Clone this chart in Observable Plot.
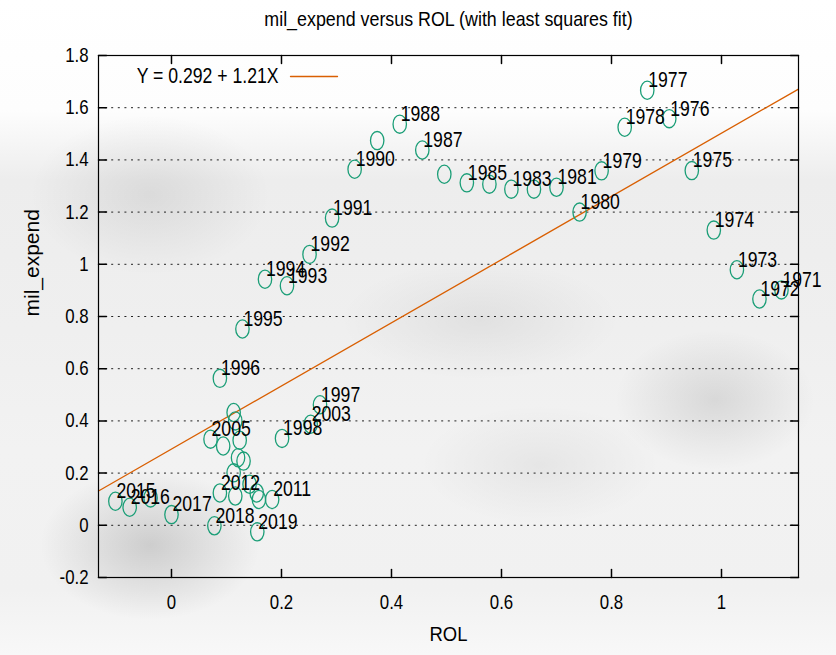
<!DOCTYPE html>
<html><head><meta charset="utf-8">
<script src="https://cdn.jsdelivr.net/npm/d3@7"></script>
<script src="https://cdn.jsdelivr.net/npm/@observablehq/plot@0.6"></script>
<style>
html,body{margin:0;padding:0;background:#fff;}
#chart{width:836px;height:655px;overflow:hidden;
background:
 radial-gradient(ellipse 110px 75px at 150px 545px, rgba(0,0,0,0.15), rgba(0,0,0,0)),
 radial-gradient(ellipse 120px 80px at 150px 195px, rgba(0,0,0,0.08), rgba(0,0,0,0)),
 radial-gradient(ellipse 100px 70px at 715px 400px, rgba(0,0,0,0.10), rgba(0,0,0,0)),
 radial-gradient(ellipse 140px 60px at 480px 320px, rgba(0,0,0,0.06), rgba(0,0,0,0)),
 radial-gradient(ellipse 120px 60px at 540px 465px, rgba(0,0,0,0.05), rgba(0,0,0,0)),
 linear-gradient(to bottom, #ffffff 0px, #fdfdfd 110px, #ededed 180px, #efefef 330px, #f2f2f2 450px, #f1f1f1 590px, #f8f8f8 655px);}
</style></head><body><div id="chart"></div><script>
const years = [1971,1972,1973,1974,1975,1976,1977,1978,1979,1980,1981,1982,1983,1984,1985,1986,1987,1988,1989,1990,
  1991,1992,1993,1994,1995,1996,1997,1998,1999,2000,2001,2002,2003,2004,2005,2006,2007,2008,2009,2010,
  2011,2012,2013,2014,2015,2016,2017,2018,2019];
const rol = [1.109,1.069,1.028,0.986,0.946,0.905,0.865,0.824,0.782,0.742,0.700,0.659,0.618,0.578,0.537,0.496,0.456,0.415,0.374,0.333,
  0.292,0.251,0.210,0.170,0.129,0.088,0.270,0.201,0.113,0.116,0.124,0.094,0.253,0.121,0.071,0.131,0.113,0.142,0.155,0.159,
  0.183,0.088,0.116,-0.038,-0.102,-0.076,0.000,0.078,0.156];
const milExpend = [0.902,0.867,0.979,1.131,1.359,1.558,1.667,1.525,1.358,1.200,1.295,1.288,1.288,1.307,1.312,1.345,1.438,1.537,1.474,1.364,
  1.177,1.038,0.918,0.943,0.752,0.563,0.462,0.333,0.432,0.400,0.326,0.304,0.387,0.259,0.330,0.246,0.201,0.157,0.124,0.099,
  0.099,0.124,0.112,0.105,0.092,0.069,0.041,-0.002,-0.025];
const labeledYears = [1971,1972,1973,1974,1975,1976,1977,1978,1979,1980,1981,1983,1985,1987,1988,1990,
  1991,1992,1993,1994,1995,1996,1997,1998,2003,2005,2011,2012,2015,2016,2017,2018,2019];
const xTicks = [0,0.2,0.4,0.6,0.8,1];
const yTicks = [-0.2,0,0.2,0.4,0.6,0.8,1,1.2,1.4,1.6,1.8];
const fitIntercept = 0.292, fitSlope = 1.21;
const legendText = "Y = 0.292 + 1.21X";
const titleText = "mil_expend versus ROL (with least squares fit)";
const xLabel = "ROL", yLabel = "mil_expend";
const xDomain = [-0.1327, 1.14], yDomain = [-0.2, 1.8];

const points = years.map((yr,i)=>({year:yr, x:rol[i], y:milExpend[i]}));
const labeled = points.filter(p=>labeledYears.includes(p.year));
const fitLine = xDomain.map(x=>({x, y: fitIntercept + fitSlope*x}));

const FONT = '"Liberation Sans",Arial,sans-serif';
const green = "#1b9e77", orange = "#d95f02";
const ellipse = {draw(c){const rx=6.7, ry=9.1, k=0.5523;
  c.moveTo(rx,0); c.bezierCurveTo(rx,ry*k,rx*k,ry,0,ry); c.bezierCurveTo(-rx*k,ry,-rx,ry*k,-rx,0);
  c.bezierCurveTo(-rx,-ry*k,-rx*k,-ry,0,-ry); c.bezierCurveTo(rx*k,-ry,rx,-ry*k,rx,0); c.closePath();}};
const tickShape = {draw(c,l){c.moveTo(0,0); c.lineTo(0,-l);}};
const fmt = d => String(+d.toFixed(1));

const plot = Plot.plot({
  width:836, height:655,
  marginLeft:98, marginRight:38, marginTop:55, marginBottom:78,
  style:{fontFamily:FONT, background:"transparent", color:"#000"},
  x:{domain:xDomain},
  y:{domain:yDomain},
  marks:[
    Plot.ruleY(yTicks.filter(d=>d>-0.2 && d<1.8), {stroke:"#222", strokeDasharray:"2,4.6", strokeWidth:1}),
    Plot.vector(yTicks, {x:xDomain[0], y:d=>d, rotate:90, length:8, anchor:"start", shape:tickShape, stroke:"#000"}),
    Plot.vector(yTicks, {x:xDomain[1], y:d=>d, rotate:-90, length:8, anchor:"start", shape:tickShape, stroke:"#000"}),
    Plot.vector(xTicks, {x:d=>d, y:yDomain[0], rotate:0, length:8, anchor:"start", shape:tickShape, stroke:"#000"}),
    Plot.vector(xTicks, {x:d=>d, y:yDomain[1], rotate:180, length:8, anchor:"start", shape:tickShape, stroke:"#000"}),
    Plot.axisX(xTicks, {anchor:"bottom", tickSize:0, tickPadding:17, fontSize:20.5, tickFormat:fmt, label:null}),
    Plot.axisY(yTicks, {anchor:"left", tickSize:0, tickPadding:10, fontSize:20.5, tickFormat:fmt, label:null}),
    Plot.line(fitLine, {x:"x", y:"y", stroke:orange, strokeWidth:1.3}),
    Plot.dot(points, {x:"x", y:"y", symbol:ellipse, stroke:green, strokeWidth:1.3, fill:"none"}),
    Plot.text(labeled, {x:"x", y:"y", text:d=>String(d.year), textAnchor:"start", dx:1, dy:-10, fontSize:21.5, fill:"#000"}),
    Plot.frame({stroke:"#000", strokeWidth:1.2}),
    Plot.text([legendText], {frameAnchor:"top-left", dx:180, dy:21, textAnchor:"end", lineAnchor:"middle", fontSize:21.5, fill:"#000"}),
    Plot.vector([0], {frameAnchor:"top-left", dx:192, dy:21, rotate:90, length:47, anchor:"start", shape:tickShape, stroke:orange, strokeWidth:1.3}),
    Plot.text([titleText], {frameAnchor:"top", dy:-36, lineAnchor:"middle", fontSize:21, fill:"#000"}),
    Plot.text([xLabel], {frameAnchor:"bottom", dy:57, lineAnchor:"middle", fontSize:20.5, fill:"#000"}),
    Plot.text([yLabel], {frameAnchor:"left", dx:-66, rotate:-90, fontSize:21, fill:"#000"})
  ]
});
document.getElementById("chart").appendChild(plot);
// narrow the (Arial-metric) glyphs horizontally to mimic the condensed face of the original
d3.select(plot).selectAll("text").each(function(){
  const txt = this.textContent;
  if (!txt || txt === yLabel) return;
  const s = txt === titleText ? 0.85 : (txt === xLabel ? 0.9 : 0.82);
  const L = this.getComputedTextLength();
  if (L > 0) {
    this.setAttribute("textLength", (L * s).toFixed(2));
    this.setAttribute("lengthAdjust", "spacingAndGlyphs");
  }
});
</script></body></html>
